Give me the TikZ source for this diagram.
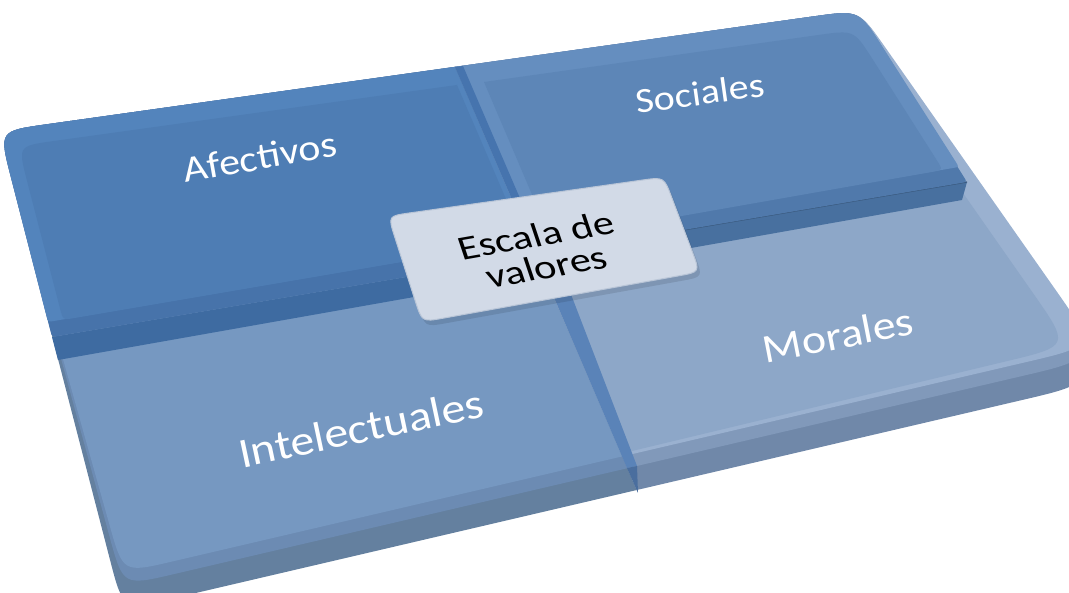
\documentclass[tikz,border=0pt]{standalone}
\usepackage{fontspec}
\setmainfont{Carlito}
\usetikzlibrary{calc}
\definecolor{sideL}{HTML}{64809F}
\definecolor{sideR}{HTML}{7088A9}
\definecolor{intBev}{HTML}{6C8BB3}
\definecolor{intFace}{HTML}{7698C1}
\definecolor{morBev}{HTML}{8199BA}
\definecolor{morRim}{HTML}{9AB1D0}
\definecolor{morFace}{HTML}{8DA7C8}
\definecolor{seamLow}{HTML}{5A83B8}
\definecolor{seamDark}{HTML}{4A6E9E}
\definecolor{afeRim}{HTML}{5384BC}
\definecolor{afeFace}{HTML}{4E7DB4}
\definecolor{afeBev}{HTML}{4773AA}
\definecolor{afeFront}{HTML}{3E6BA1}
\definecolor{socRim}{HTML}{658EBF}
\definecolor{socFace}{HTML}{5D86B7}
\definecolor{socBev}{HTML}{5079AB}
\definecolor{socFront}{HTML}{48709F}
\definecolor{socStripe}{HTML}{4674AE}
\definecolor{boxFill}{HTML}{D2DAE7}
\definecolor{boxEdge}{HTML}{B9C5D7}
\tikzset{
  rq/.style n args={8}{insert path={($(#1)!#2pt!(#3)$) -- ($(#3)!#4pt!(#1)$) .. controls (#3) .. ($(#3)!#4pt!(#5)$) -- ($(#5)!#6pt!(#3)$) .. controls (#5) .. ($(#5)!#6pt!(#7)$) -- ($(#7)!#8pt!(#5)$) .. controls (#7) .. ($(#7)!#8pt!(#1)$) -- ($(#1)!#2pt!(#7)$) .. controls (#1) .. ($(#1)!#2pt!(#3)$) -- cycle}},
  lab/.style={text=white, inner sep=0pt},
}
\begin{document}
\begin{tikzpicture}[x=1pt,y=-1pt]
\useasboundingbox (0,0) rectangle (1069,593);
% key points
\coordinate (TL) at (-1,131);
\coordinate (TR) at (859,10);
\coordinate (BRf) at (1095,359);
\coordinate (BLf) at (123,586);
\coordinate (BRs) at (1095,383);
\coordinate (BLs) at (123,610);
\coordinate (BRr) at (1095,346);
\coordinate (BLr) at (123,573);
\coordinate (TRm) at (837,13);
\coordinate (BRm) at (1070,346);
\coordinate (T) at (455,67);
\coordinate (B) at (638,493);
\coordinate (Ct) at (536,255);
\coordinate (Ct2) at (529,240);
\coordinate (Cb) at (544,274);
\coordinate (Lt) at (52,337);
\coordinate (Lt2) at (48,322);
\coordinate (Lb) at (58,360);
\coordinate (Rt) at (967,182);
\coordinate (Rt2) at (959,167);
\coordinate (Rb) at (962,200);
\coordinate (AI1) at (18,146);
\coordinate (AI2) at (457,85);
\coordinate (AI3) at (524,241);
\coordinate (AI4) at (63,320);
\coordinate (SI1) at (484,82);
\coordinate (SI2) at (854,30);
\coordinate (SI3) at (943,170);
\coordinate (SI4) at (551,239);
\coordinate (Tx) at ($(B)!1.6!(T)$);
\coordinate (Bx) at ($(T)!1.6!(B)$);
% ---------- lower half (Intelectuales / Morales) ----------
\begin{scope}
  \clip (Tx) -- (Bx) -- (-300,900) -- (-300,-300) -- cycle;
  \fill[sideL, rq={TL}{48}{TR}{45}{BRs}{75}{BLs}{52}];
  \fill[intBev, rq={TL}{48}{TR}{45}{BRf}{75}{BLf}{52}];
  \fill[intFace, rq={TL}{48}{TR}{45}{BRr}{70}{BLr}{50}];
\end{scope}
\begin{scope}
  \clip (Tx) -- (Bx) -- (1400,900) -- (1400,-300) -- cycle;
  \fill[sideR, rq={TL}{48}{TR}{45}{BRs}{75}{BLs}{52}];
  \fill[morBev, rq={TL}{48}{TR}{45}{BRf}{75}{BLf}{52}];
  \fill[morRim, rq={TL}{48}{TR}{45}{BRr}{70}{BLr}{50}];
  \fill[morFace, rq={TL}{48}{TRm}{40}{BRm}{65}{BLr}{50}];
\end{scope}
% lower vertical seam
\fill[seamLow] (Cb) -- (562,271) -- (637,466) -- (627,468) -- cycle;
\fill[seamDark] (627,468) -- (637,466) -- (B) -- cycle;
% ---------- Afectivos tile ----------
\fill[afeFront] (Lt) -- (Ct) -- (Cb) -- (Lb) -- cycle;
\fill[afeBev, rq={TL}{48}{T}{0}{Ct}{0}{Lt}{6}];
\fill[afeRim, rq={TL}{48}{T}{0}{Ct2}{0}{Lt2}{6}];
\fill[afeFace, rq={AI1}{36}{AI2}{0}{AI3}{0}{AI4}{12}];
% ---------- Sociales tile ----------
\fill[socFront] (Ct) -- (Rt) -- (Rb) -- (Cb) -- cycle;
\draw[socFront!80!black, line width=1.2pt] (Ct) -- (Rt);
\fill[socBev, rq={T}{0}{TR}{45}{Rt}{6}{Ct}{0}];
\fill[socRim, rq={T}{0}{TR}{45}{Rt2}{6}{Ct2}{0}];
\fill[socFace, rq={SI1}{0}{SI2}{35}{SI3}{12}{SI4}{0}];
\fill[socStripe] (T) -- (463,66) -- (544,254) -- (Ct) -- cycle;
% ---------- labels ----------
\node[lab, font=\fontsize{42}{42}\selectfont, rotate=10, yscale=0.88] (afe) at (260,157) {Afectivos};
\node[lab, font=\fontsize{40}{40}\selectfont, rotate=8, yscale=0.88] (soc) at (700,93) {Sociales};
\node[lab, font=\fontsize{48}{48}\selectfont, rotate=12, yscale=0.88] (int) at (361,428) {Intelectuales};
\node[lab, font=\fontsize{46}{46}\selectfont, rotate=11, yscale=0.88] (mor) at (838,335) {Morales};
% ---------- central box ----------
\coordinate (E1) at (388,216);
\coordinate (E2) at (664,177);
\coordinate (E3) at (700,272);
\coordinate (E4) at (422,322);
\coordinate (E1s) at (391,221);
\coordinate (E2s) at (667,182);
\coordinate (E3s) at (703,277);
\coordinate (E4s) at (425,327);
\fill[black, opacity=0.1, rq={E1s}{22}{E2s}{22}{E3s}{22}{E4s}{22}];
\filldraw[fill=boxFill, draw=boxEdge, line width=1pt, rq={E1}{22}{E2}{22}{E3}{22}{E4}{22}];
\node[text=black, inner sep=0pt, align=center, font=\fontsize{42}{40}\selectfont, rotate=10, xslant=-0.15, yscale=0.82] (esc) at (541,251) {Escala de\\valores};
\end{tikzpicture}
\end{document}
